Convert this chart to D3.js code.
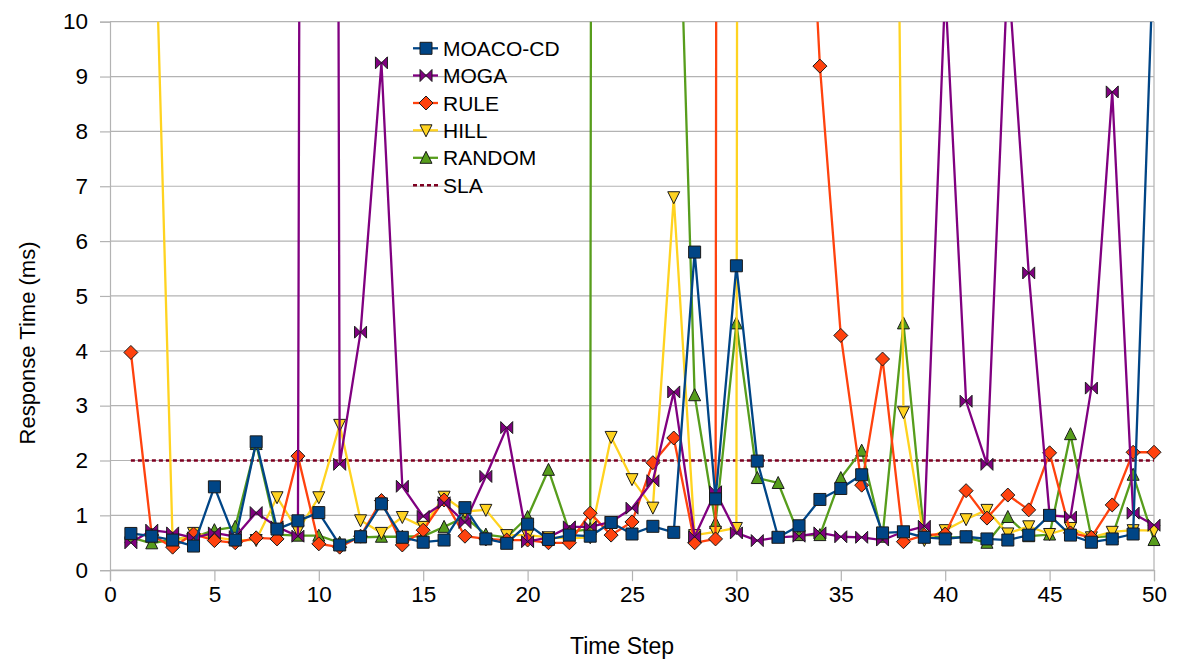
<!DOCTYPE html>
<html><head><meta charset="utf-8">
<script src="https://cdn.jsdelivr.net/npm/d3@7"></script>
<style>
html,body{margin:0;padding:0;background:#fff;}
svg{display:block;font-family:"Liberation Sans",Arial,sans-serif;}
</style></head>
<body><svg id="chart" width="1178" height="664"></svg>
<script>
const steps = d3.range(1, 51);
const xTicks = [0,5,10,15,20,25,30,35,40,45,50];
const yTicks = [0,1,2,3,4,5,6,7,8,9,10];
const seriesNames = ["MOACO-CD","MOGA","RULE","HILL","RANDOM","SLA"];

const moacoCD = [0.67,0.62,0.55,0.44,1.52,0.55,2.34,0.75,0.9,1.05,
  0.46,0.61,1.21,0.6,0.51,0.55,1.14,0.57,0.49,0.84,
  0.56,0.64,0.62,0.87,0.66,0.8,0.69,5.8,1.3,5.55,
  1.99,0.6,0.81,1.29,1.49,1.74,0.68,0.7,0.6,0.57,
  0.61,0.57,0.55,0.64,1.0,0.64,0.51,0.57,0.66,11.5];
const moga = [0.5,0.73,0.68,0.59,0.68,0.61,1.05,0.79,0.62,150,
  1.93,4.34,9.25,1.53,0.98,1.23,0.87,1.71,2.6,0.52,
  0.6,0.79,0.79,0.88,1.13,1.63,3.25,0.61,1.43,0.68,
  0.54,0.6,0.62,0.68,0.61,0.6,0.55,0.7,0.8,10.6,
  3.08,1.93,11,5.42,1.0,0.97,3.32,8.72,1.04,0.82];
const rule = [3.97,0.64,0.42,0.66,0.54,0.5,0.59,0.57,2.08,0.48,
  0.42,0.62,1.27,0.46,0.73,1.28,0.62,0.57,0.55,0.55,
  0.5,0.5,1.04,0.64,0.88,1.96,2.41,0.5,0.57,300,
  300,300,16.5,9.19,4.28,1.55,3.85,0.52,0.64,0.66,
  1.45,0.95,1.37,1.1,2.14,0.68,0.6,1.19,2.15,2.15];
const hill = [15,14.2,0.5,0.68,0.6,0.55,0.55,1.33,0.72,1.33,
  2.65,0.91,0.68,0.97,0.79,1.34,1.07,1.1,0.64,0.64,
  0.6,0.58,0.6,2.43,1.66,1.14,6.8,0.64,0.7,0.77,
  300,300,300,300,300,300,41,2.88,0.55,0.73,
  0.93,1.1,0.67,0.8,0.66,0.77,0.6,0.7,0.73,0.72];
const random = [0.6,0.49,0.56,0.6,0.73,0.79,2.3,0.65,0.63,0.63,
  0.5,0.6,0.61,0.61,0.62,0.79,0.97,0.65,0.6,0.97,
  1.83,0.7,0.75,300,300,300,15.8,3.19,0.86,4.5,
  1.68,1.59,0.64,0.64,1.68,2.18,0.61,4.5,0.61,0.6,
  0.6,0.5,0.97,0.62,0.65,2.48,0.6,0.62,1.74,0.55];
const slaValue = 2;

const colors = {"MOACO-CD":"#004586","MOGA":"#800080","RULE":"#ff420e","HILL":"#ffd320","RANDOM":"#579d1c","SLA":"#7e0021"};
const shapes = {"MOACO-CD":"square","MOGA":"bowtie","RULE":"diamond","HILL":"down","RANDOM":"up"};
const dataMap = {"MOACO-CD":moacoCD,"MOGA":moga,"RULE":rule,"HILL":hill,"RANDOM":random};

const M = {left:110, right:1154, top:21.7, bottom:570.2};
const svg = d3.select("#chart");
const x = d3.scaleLinear().domain([0,50]).range([M.left, M.right]);
const y = d3.scaleLinear().domain([0,10]).range([M.bottom, M.top]);
const gridColor = "#b3b3b3";

svg.append("g").selectAll("line").data(yTicks).join("line")
  .attr("x1", M.left).attr("x2", M.right)
  .attr("y1", d=>y(d)).attr("y2", d=>y(d))
  .attr("stroke", gridColor).attr("stroke-width", 1.2);
svg.append("line").attr("x1", M.right).attr("x2", M.right).attr("y1", M.top).attr("y2", M.bottom)
  .attr("stroke", gridColor).attr("stroke-width", 1.2);

const yAxis = d3.axisLeft(y).tickValues(yTicks).tickSize(10).tickPadding(12).tickFormat(d3.format("d"));
const gy = svg.append("g").attr("transform", `translate(${M.left},0)`).call(yAxis);
const xAxis = d3.axisBottom(x).tickValues(xTicks).tickSize(11).tickPadding(5).tickFormat(d3.format("d"));
const gx = svg.append("g").attr("transform", `translate(0,${M.bottom})`).call(xAxis);
[gx, gy].forEach(g => {
  g.select(".domain").attr("stroke", gridColor).attr("stroke-width", 1.2);
  g.selectAll(".tick line").attr("stroke", gridColor).attr("stroke-width", 1.2);
  g.selectAll(".tick text").attr("fill", "#000").style("font-size", "22.5px").style("font-family", '"Liberation Sans",Arial,sans-serif');
});

svg.append("text").attr("x", 622).attr("y", 646).attr("text-anchor","middle")
  .attr("dominant-baseline","central").style("font-size","23px").text("Time Step");
svg.append("text").attr("transform", "translate(27,343) rotate(-90)").attr("text-anchor","middle")
  .attr("dominant-baseline","central").style("font-size","22px").text("Response Time (ms)");

svg.append("clipPath").attr("id","plotclip").append("rect")
  .attr("x", M.left).attr("y", M.top-8).attr("width", M.right-M.left+8).attr("height", M.bottom-M.top+8);
svg.append("clipPath").attr("id","lineclip").append("rect")
  .attr("x", M.left).attr("y", M.top).attr("width", M.right-M.left).attr("height", M.bottom-M.top);

function markerPath(shape, s) {
  const h = s/2;
  switch(shape){
    case "square": return `M${-h},${-h}H${h}V${h}H${-h}Z`;
    case "diamond": return `M0,${-h-1}L${h+1},0L0,${h+1}L${-h-1},0Z`;
    case "down": return `M${-h},${-h+0.5}L${h},${-h+0.5}L0,${h+0.5}Z`;
    case "up": return `M0,${-h-0.5}L${h},${h-0.5}L${-h},${h-0.5}Z`;
    case "bowtie": return `M${-h},${-h}L0,0L${-h},${h}ZM${h},${-h}L0,0L${h},${h}Z`;
  }
}

const line = d3.line().x(d=>x(d.s)).y(d=>y(d.v));

svg.append("line").attr("x1", x(1)).attr("x2", x(50)).attr("y1", y(slaValue)).attr("y2", y(slaValue))
  .attr("stroke", colors.SLA).attr("stroke-width", 2.6).attr("stroke-dasharray","4,3");

const drawOrder = ["RANDOM","HILL","RULE","MOGA","MOACO-CD"];
drawOrder.forEach(name => {
  const pts = steps.map((s,i)=>({s, v:dataMap[name][i]}));
  svg.append("path").datum(pts).attr("d", line).attr("fill","none")
    .attr("stroke", colors[name]).attr("stroke-width", 2.3).attr("stroke-linejoin","round")
    .attr("clip-path","url(#lineclip)");
  svg.append("g").attr("clip-path","url(#plotclip)").selectAll("path")
    .data(pts.filter(p=>p.v<=10.05)).join("path")
    .attr("transform", d=>`translate(${x(d.s)},${y(d.v)})`)
    .attr("d", markerPath(shapes[name], 12))
    .attr("fill", colors[name]).attr("stroke", "#1a1a1a").attr("stroke-width", 1);
});

const legY = [48.3, 75.5, 103, 130.3, 157.8, 185.2];
const lg = svg.append("g");
seriesNames.forEach((name,i) => {
  const yy = legY[i];
  if (name === "SLA") {
    lg.append("line").attr("x1", 413).attr("x2", 438).attr("y1", yy).attr("y2", yy)
      .attr("stroke", colors.SLA).attr("stroke-width", 2.6).attr("stroke-dasharray","4,3");
  } else {
    lg.append("line").attr("x1", 413).attr("x2", 438).attr("y1", yy).attr("y2", yy)
      .attr("stroke", colors[name]).attr("stroke-width", 2.3);
    lg.append("path").attr("transform", `translate(426,${yy})`).attr("d", markerPath(shapes[name], 12))
      .attr("fill", colors[name]).attr("stroke","#1a1a1a").attr("stroke-width",1);
  }
  lg.append("text").attr("x", 443).attr("y", yy).attr("dominant-baseline","central")
    .style("font-size","21px").text(name);
});
</script></body></html>
